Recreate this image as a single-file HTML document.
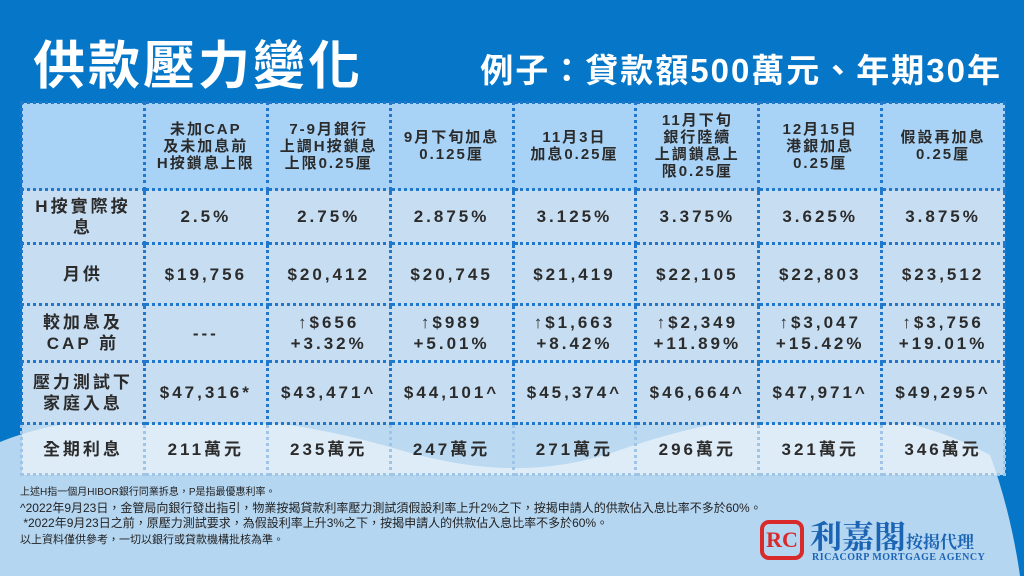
<!DOCTYPE html>
<html><head><meta charset="utf-8">
<style>
*{margin:0;padding:0;box-sizing:border-box}
body{width:1024px;height:576px;overflow:hidden;position:relative;background:#0677c8;font-family:"Liberation Sans","Noto Sans CJK TC",sans-serif}
#bg{position:absolute;left:0;top:0}
.title{position:absolute;left:33px;top:24px;color:#fff;font-size:52px;font-weight:bold;letter-spacing:3px;white-space:nowrap}
.sub{position:absolute;right:22px;top:44px;color:#fff;font-size:33px;font-weight:bold;letter-spacing:2px;white-space:nowrap}
table{position:absolute;left:20px;top:101px;width:986px;border-collapse:collapse;table-layout:fixed}
td{border:3px dotted #1f78cc;text-align:center;color:#2b2b2b;font-weight:bold;letter-spacing:3px;background:#c7ddf2}
tr.h td{background:#a9d3f6;font-size:15px;line-height:17px;height:87px;letter-spacing:2px}
tr td:first-child{font-size:16px;line-height:20px}
tr.b td{font-size:17px;line-height:21px}
tr.last td{background:rgba(232,241,250,0.8);border-color:#9fc4e6}
.notes{position:absolute;left:20px;top:484px;font-size:12px;line-height:15.5px;color:#222;white-space:nowrap}
.logo{position:absolute;left:760px;top:518px}
</style></head><body>
<svg id="bg" width="1024" height="576">
<path d="M0,442 C90,405 250,405 400,450 C470,470 540,478 620,450 C750,405 880,395 990,455 C1005,495 1015,540 1020,576 L0,576 Z" fill="#b5d6f1"/>
</svg>
<div class="title">供款壓力變化</div>
<div class="sub">例子：貸款額500萬元、年期30年</div>
<table>
<tr class="h"><td></td><td>未加CAP<br>及未加息前<br>H按鎖息上限</td><td>7-9月銀行<br>上調H按鎖息<br>上限0.25厘</td><td>9月下旬加息<br>0.125厘</td><td>11月3日<br>加息0.25厘</td><td>11月下旬<br>銀行陸續<br>上調鎖息上<br>限0.25厘</td><td>12月15日<br>港銀加息<br>0.25厘</td><td>假設再加息<br>0.25厘</td></tr>
<tr class="b" style="height:54px"><td>H按實際按<br>息</td><td>2.5%</td><td>2.75%</td><td>2.875%</td><td>3.125%</td><td>3.375%</td><td>3.625%</td><td>3.875%</td></tr>
<tr class="b" style="height:61px"><td>月供</td><td>$19,756</td><td>$20,412</td><td>$20,745</td><td>$21,419</td><td>$22,105</td><td>$22,803</td><td>$23,512</td></tr>
<tr class="b" style="height:57px"><td>較加息及<br>CAP 前</td><td>---</td><td>↑$656<br>+3.32%</td><td>↑$989<br>+5.01%</td><td>↑$1,663<br>+8.42%</td><td>↑$2,349<br>+11.89%</td><td>↑$3,047<br>+15.42%</td><td>↑$3,756<br>+19.01%</td></tr>
<tr class="b" style="height:62px"><td>壓力測試下<br>家庭入息</td><td>$47,316*</td><td>$43,471^</td><td>$44,101^</td><td>$45,374^</td><td>$46,664^</td><td>$47,971^</td><td>$49,295^</td></tr>
<tr class="b last" style="height:51px"><td>全期利息</td><td>211萬元</td><td>235萬元</td><td>247萬元</td><td>271萬元</td><td>296萬元</td><td>321萬元</td><td>346萬元</td></tr>
</table>
<div class="notes"><span style="font-size:10px">上述H指一個月HIBOR銀行同業拆息，P是指最優惠利率。</span><br>^2022年9月23日，金管局向銀行發出指引，物業按揭貸款利率壓力測試須假設利率上升2%之下，按揭申請人的供款佔入息比率不多於60%。<br>&nbsp;*2022年9月23日之前，原壓力測試要求，為假設利率上升3%之下，按揭申請人的供款佔入息比率不多於60%。<br><span style="font-size:11px">以上資料僅供參考，一切以銀行或貸款機構批核為準。</span></div>
<div class="logo">
<div style="position:absolute;left:0;top:2px;width:44px;height:40px;border:4px solid #d82a2a;border-radius:9px;color:#d82a2a;font:bold 22px 'Liberation Serif',serif;text-align:center;line-height:32px">RC</div>
<div style="position:absolute;left:50px;top:-6px;white-space:nowrap;color:#1b64b4;font:bold 32px 'Noto Serif CJK SC',serif">利嘉閣<span style="font-size:17px">按揭代理</span></div>
<div style="position:absolute;left:52px;top:34px;white-space:nowrap;color:#1b64b4;font:bold 10px 'Liberation Serif',serif;letter-spacing:0.5px">RICACORP MORTGAGE AGENCY</div>
</div>
</body></html>
